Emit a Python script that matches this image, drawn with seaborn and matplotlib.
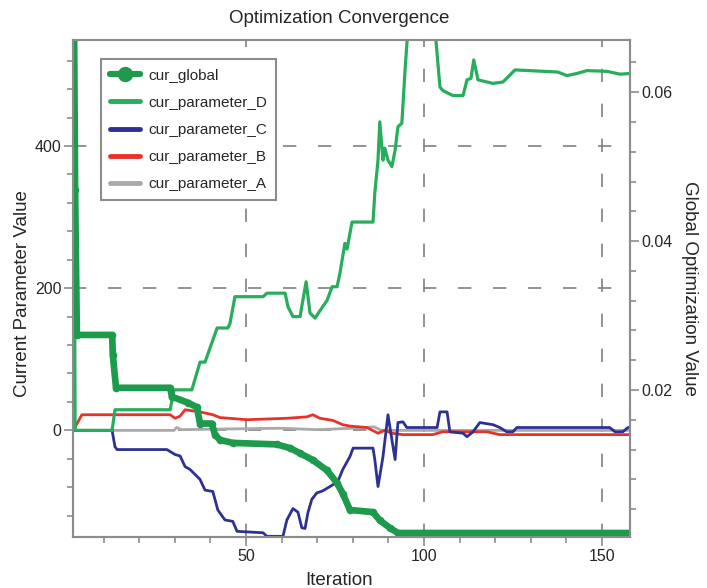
import matplotlib
matplotlib.use('Agg')
import matplotlib.pyplot as plt
from matplotlib.lines import Line2D
from matplotlib.ticker import MultipleLocator, FormatStrFormatter
import seaborn as sns

sns.set_style('white')
plt.rcParams['font.family'] = ['Liberation Sans', 'DejaVu Sans']

# cur_global, plotted on the right axis
global_iter = [1.5, 2.0, 2.5, 12.4, 12.6, 13.5, 28.7, 29.2, 33.7, 36.2, 37.1, 40.4, 41.3, 42.7,
               46.3, 58.7, 62.4, 65.2, 68.8, 72.8, 75.6, 77.2, 79.2, 85.7, 87.6, 90.4, 92.7, 157.9]
global_val = [0.085, 0.0469, 0.0274, 0.0274, 0.0247, 0.0203, 0.0203, 0.0191, 0.0183, 0.0177, 0.0155,
              0.0155, 0.0140, 0.0133, 0.0129, 0.0127, 0.0122, 0.0115, 0.0106, 0.0092, 0.0075, 0.0061,
              0.0039, 0.0036, 0.0025, 0.0015, 0.0008, 0.0008]

# parameters, left axis
d_iter = [1.5, 2.0, 12.4, 13.2, 28.7, 29.8, 34.8, 37.1, 38.5, 41.9, 44.9, 45.5, 46.9, 54.8, 55.9,
          61.0, 61.8, 63.2, 65.2, 66.9, 68.0, 69.4, 72.8, 74.2, 75.6, 76.4, 77.8, 78.4, 79.8, 85.7,
          86.2, 87.1, 87.6, 88.5, 89.0, 89.9, 91.0, 91.9, 92.7, 93.8, 94.7, 96.0, 102.5, 104.5,
          105.3, 108.1, 111.0, 112.1, 113.2, 114.0, 115.2, 119.4, 122.2, 125.6, 137.6, 140.2, 143.0,
          145.8, 151.4, 155.1, 157.9]
d_val = [700, 0, 0, 29, 29, 57, 57, 96, 96, 144, 144, 150, 188, 188, 193,
         193, 174, 160, 160, 209, 165, 158, 183, 202, 202, 221, 263, 255, 293, 293,
         334, 380, 434, 380, 397, 380, 371, 394, 427, 432, 507, 600, 600, 483,
         478, 471, 471, 493, 495, 521, 493, 488, 490, 507, 504, 499, 502,
         506, 505, 501, 502]

c_iter = [1.5, 12.4, 13.2, 13.8, 27.8, 30.1, 31.5, 32.9, 34.3, 37.1, 38.5, 40.7, 42.1, 44.1, 46.3,
          47.5, 54.8, 55.9, 60.4, 61.5, 63.2, 64.6, 65.7, 66.6, 67.4, 68.5, 69.9, 71.6, 73.6, 75.8,
          77.2, 79.2, 80.1, 85.7, 86.2, 87.1, 88.5, 89.9, 91.0, 91.9, 92.7, 94.1, 95.2, 103.7, 104.5,
          106.5, 107.3, 111.0, 112.1, 113.8, 115.7, 119.4, 121.3, 123.3, 125.0, 126.1, 152.2, 153.7,
          155.9, 157.3, 157.9]
c_val = [0, 0, -23, -27, -27, -34, -36, -51, -55, -69, -84, -86, -112, -126, -128,
         -142, -144, -149, -149, -126, -110, -115, -137, -138, -116, -97, -88, -85, -79, -72,
         -55, -37, -25, -25, -41, -79, -37, 22, -13, -41, 11, 12, 4, 4, 26,
         26, -2, -4, -9, -2, 11, 8, 4, -2, -2, 4, 4, -2,
         -2, 4, 4]

b_iter = [1.5, 3.9, 28.7, 30.1, 31.5, 32.9, 37.1, 40.7, 42.7, 50.3, 61.5, 67.1, 68.8, 70.8, 74.4,
          77.2, 79.2, 84.0, 87.1, 89.0, 91.0, 94.1, 102.5, 105.3, 117.7, 121.3, 157.9]
b_val = [0, 22, 22, 17, 20, 29, 26, 22, 18, 15, 17, 19, 22, 17, 14,
         8, 6, 4, -4, 0, -4, -6, -6, -2, -2, -6, -6]

a_iter = [1.5, 29.8, 30.5, 32.0, 45.0, 60.0, 70.0, 80.0, 86.0, 88.0, 157.9]
a_val = [0, 0, 4, 1, 2, 3, 1, 3, 5, 0, 0]

green_global = '#1d9a4b'
green_d = '#27ad5c'
blue_c = '#2e3192'
red_b = '#e5332a'
gray_a = '#a9a9a9'
frame = '#8c8c8c'

fig = plt.figure(figsize=(7.07, 5.88), dpi=100)
ax = fig.add_axes([0.1037, 0.0867, 0.7874, 0.8452])
ax2 = ax.twinx()

sns.lineplot(x=a_iter, y=a_val, ax=ax, color=gray_a, linewidth=2, sort=False, estimator=None)
sns.lineplot(x=b_iter, y=b_val, ax=ax, color=red_b, linewidth=2, sort=False, estimator=None)
sns.lineplot(x=c_iter, y=c_val, ax=ax, color=blue_c, linewidth=2, sort=False, estimator=None)
sns.lineplot(x=d_iter, y=d_val, ax=ax, color=green_d, linewidth=2.3, sort=False, estimator=None)
sns.lineplot(x=global_iter, y=global_val, ax=ax2, color=green_global, linewidth=4.8,
             marker='o', markersize=5.5, markeredgewidth=0, sort=False, estimator=None)

ax.set_xlim(1.5, 157.9)
ax.set_ylim(-150, 549)
ax2.set_ylim(0.00026, 0.067)

ax.set_xticks([50, 100, 150])
ax.xaxis.set_minor_locator(MultipleLocator(10))
ax.set_yticks([0, 200, 400])
ax.yaxis.set_minor_locator(MultipleLocator(40))
ax2.set_yticks([0.02, 0.04, 0.06])
ax2.yaxis.set_minor_locator(MultipleLocator(0.004))
ax2.yaxis.set_major_formatter(FormatStrFormatter('%.2f'))

for a in (ax, ax2):
    a.tick_params(which='major', direction='out', length=6.5, width=1.2, color=frame,
                  labelsize=11.5, pad=2)
    a.tick_params(which='minor', direction='out', length=4.5, width=1.2, color=frame)
    for s in a.spines.values():
        s.set_color(frame)
        s.set_linewidth(1.5)
ax.tick_params(axis='y', which='both', left=True, right=False)
ax.tick_params(axis='x', which='both', bottom=True, top=False)
ax2.tick_params(axis='y', which='both', right=True, left=False)

ax.grid(True, which='major', linestyle=(0, (8, 13)), color='#808080', linewidth=1.2)
ax.set_axisbelow(True)

ax.set_title('Optimization Convergence', fontsize=13.5, x=0.477, pad=12)
ax.set_xlabel('Iteration', fontsize=13.5)
ax.set_ylabel('Current Parameter Value', fontsize=13.5)
ax2.set_ylabel('Global Optimization Value', fontsize=13.5, rotation=270, labelpad=18)
ax.xaxis.set_label_coords(0.477, -0.07)
ax.yaxis.set_label_coords(-0.076, 0.49)

handles = [
    Line2D([], [], color=green_global, linewidth=4.5, marker='o', markersize=10),
    Line2D([], [], color=green_d, linewidth=3.5),
    Line2D([], [], color=blue_c, linewidth=3.5),
    Line2D([], [], color=red_b, linewidth=3.5),
    Line2D([], [], color=gray_a, linewidth=3.5),
]
labels = ['cur_global', 'cur_parameter_D', 'cur_parameter_C', 'cur_parameter_B', 'cur_parameter_A']
leg = ax2.legend(handles, labels, loc='upper left', bbox_to_anchor=(0.049, 0.961),
                 borderaxespad=0, fancybox=False, edgecolor=frame, framealpha=1,
                 fontsize=11, handlelength=2.0, handletextpad=0.5, labelspacing=0.86,
                 borderpad=0.6)
leg.get_frame().set_linewidth(1.5)

fig.savefig('out.png', dpi=100)
